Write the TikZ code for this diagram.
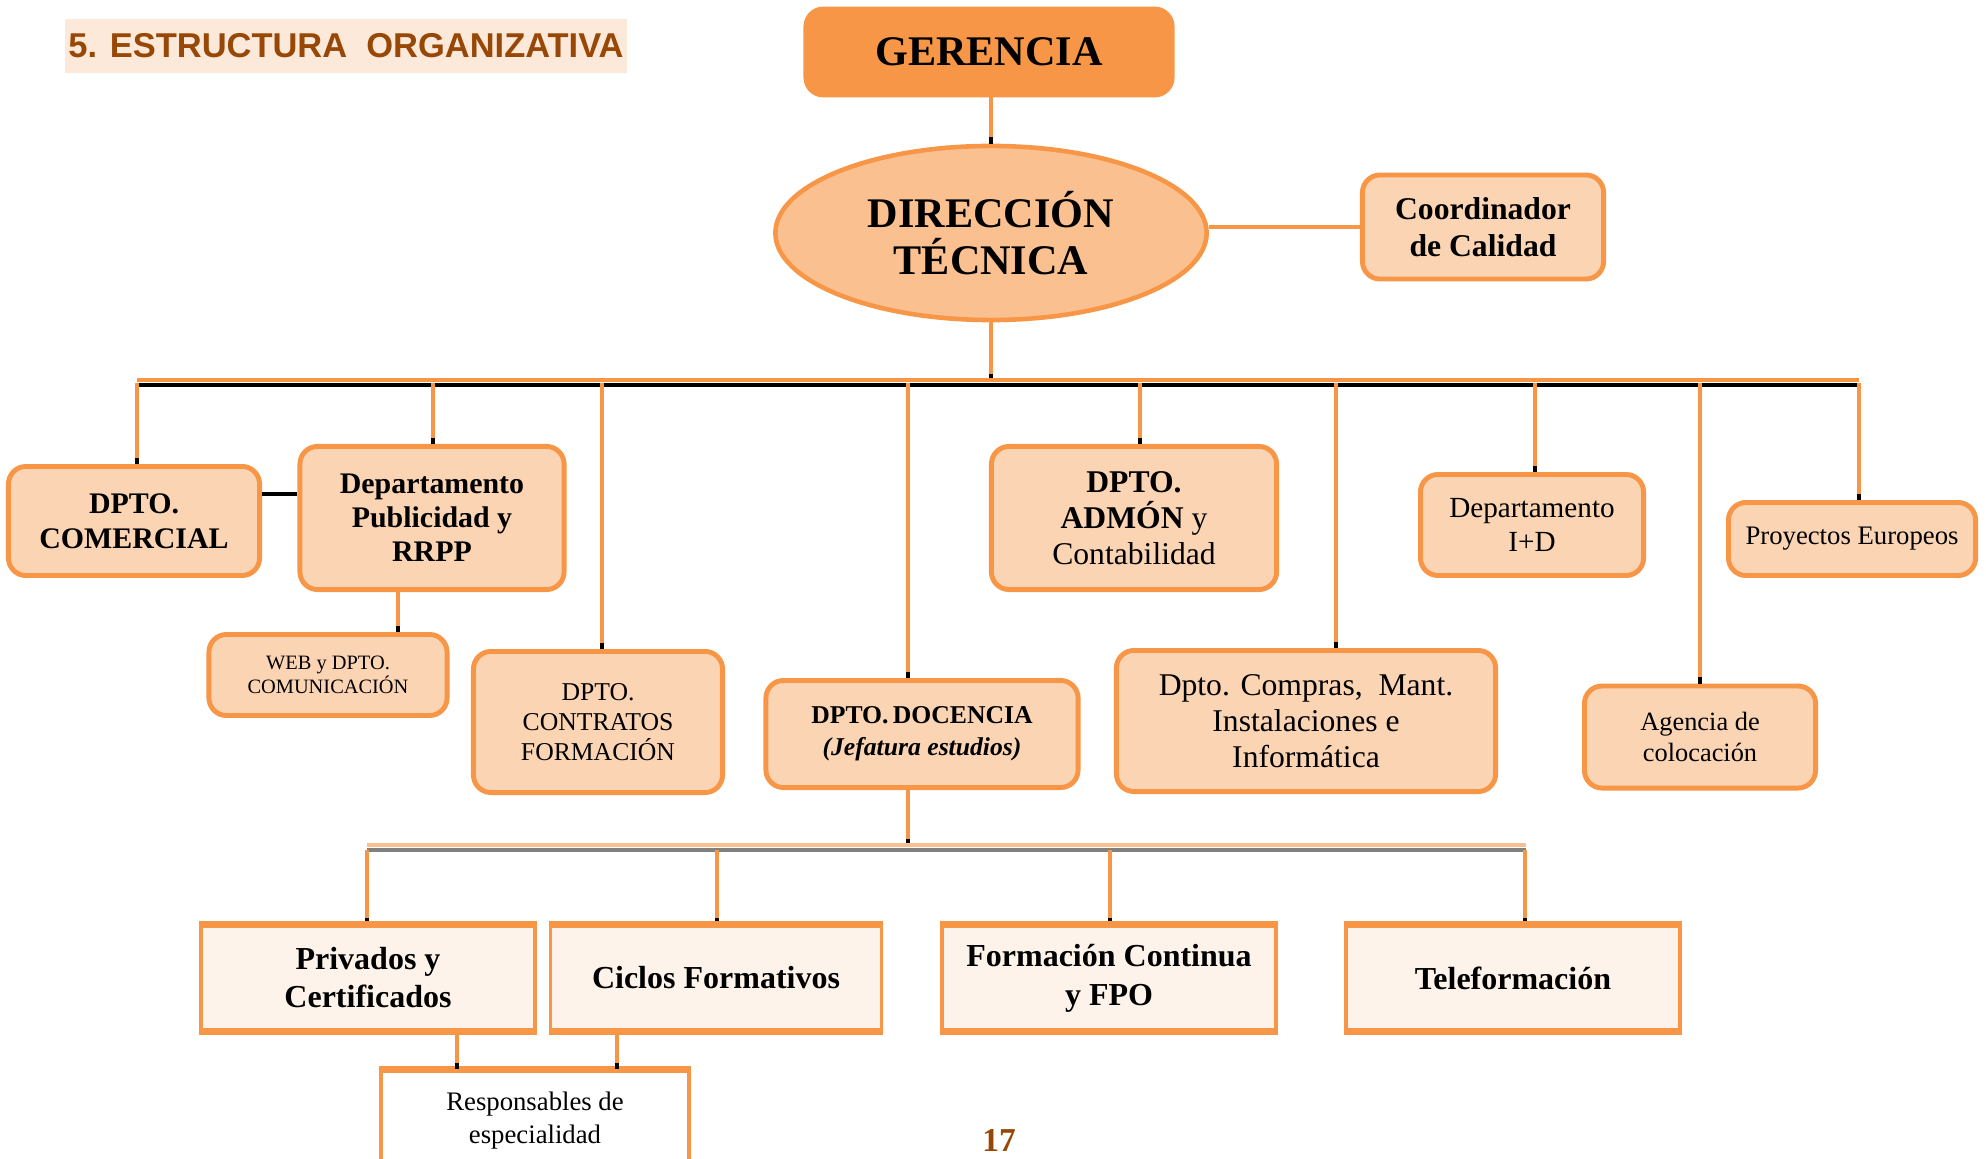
\documentclass[tikz,border=0pt]{standalone}
\usepackage{fontspec}
\setmainfont{Liberation Serif}
\newfontfamily\headfont{Liberation Sans}
\usetikzlibrary{shapes.geometric,arrows.meta}
\definecolor{orng}{HTML}{F79646}
\definecolor{peach}{HTML}{FBD4B4}
\definecolor{ellfill}{HTML}{FAC090}
\definecolor{pale}{HTML}{FDF3EA}
\definecolor{titlebg}{HTML}{FDE9D9}
\definecolor{brown}{HTML}{984806}
\definecolor{busgray}{HTML}{808080}
\newcommand\fs[2]{\fontsize{#1}{#2}\selectfont}
\tikzset{
  box/.style={draw=orng, fill=peach, line width=1.4pt, rounded corners=5pt, align=center, inner sep=0pt},
  sq/.style={draw=orng, fill=pale, line width=1pt, align=center, inner sep=0pt},
  link/.style={draw=orng, line width=1pt},
  tap/.style={link, -{Square[length=1.8pt,width=1.2pt,color=black]}},
  blk/.style={draw=black, line width=1.3pt},
  edge3/.style={draw=orng, line width=2pt},
}

\begin{document}
\begin{tikzpicture}[x=0.01cm, y=-0.01cm]
  \useasboundingbox (0,0) rectangle (1986,1158);
  \clip (0,0) rectangle (1986,1158);

  \node[fill=titlebg, minimum width=5.62cm, minimum height=0.54cm, inner sep=0pt, text=brown,
        font=\headfont\bfseries\fs{9.8}{12}] (title) at (346,46) {5. ESTRUCTURA~ ORGANIZATIVA};

  \node[box, fill=orng, minimum width=3.66cm, minimum height=0.86cm, font=\bfseries\fs{12}{14}] (ger) at (989,52) {GERENCIA};
  \node[ellipse, draw=orng, fill=ellfill, line width=1.3pt, minimum width=4.31cm, minimum height=1.74cm,
        inner sep=0pt, align=center, font=\bfseries\fs{12}{13.4}] (dir) at (991,233) {DIRECCIÓN\\TÉCNICA};
  \node[box, minimum width=2.41cm, minimum height=1.04cm, font=\bfseries\fs{9}{10.5}] (cal) at (1483,227) {Coordinador\\de Calidad};

  \node[box, minimum width=2.51cm, minimum height=1.09cm, font=\bfseries\fs{8.5}{10}] (com) at (134,521) {DPTO.\\COMERCIAL};
  \node[box, minimum width=2.64cm, minimum height=1.43cm, font=\bfseries\fs{8.5}{9.7}] (pub) at (432,518) {Departamento\\Publicidad y\\RRPP};
  \node[box, minimum width=2.38cm, minimum height=0.81cm, font=\fs{5.8}{6.8}] (web) at (328,675) {WEB y DPTO.\\COMUNICACIÓN};
  \node[box, minimum width=2.49cm, minimum height=1.41cm, font=\fs{7.3}{8.6}] (cont) at (598,722) {DPTO.\\CONTRATOS\\FORMACIÓN};
  \node[box, minimum width=3.12cm, minimum height=1.07cm, font=\fs{7.3}{9}] (doc) at (922,734) {\textbf{DPTO.\,DOCENCIA}\\\textbf{\textit{(Jefatura estudios)}}};
  \node[box, minimum width=2.85cm, minimum height=1.43cm, font=\fs{9}{10.3}] (adm) at (1134,518) {\textbf{DPTO.}\\\textbf{ADMÓN} y\\Contabilidad};
  \node[box, minimum width=3.79cm, minimum height=1.41cm, font=\fs{9}{10.3}] (comp) at (1306,721) {Dpto. Compras,~ Mant.\\Instalaciones e\\Informática};
  \node[box, minimum width=2.23cm, minimum height=1.01cm, font=\fs{8.3}{9.7}] (imd) at (1532,525) {Departamento\\I+D};
  \node[box, minimum width=2.31cm, minimum height=1.02cm, font=\fs{7.5}{8.7}] (age) at (1700,737) {Agencia de\\colocación};
  \node[box, minimum width=2.47cm, minimum height=0.73cm, font=\fs{7.6}{9}] (pro) at (1852,539) {Proyectos Europeos};

  \node[sq, minimum width=3.34cm, minimum height=1.03cm, font=\bfseries\fs{9.1}{10.8}] (pri) at (368,978) {Privados y\\Certificados};
  \node[sq, minimum width=3.31cm, minimum height=1.03cm, font=\bfseries\fs{9.1}{10.8}] (cic) at (716,978) {Ciclos Formativos};
  \node[sq, minimum width=3.34cm, minimum height=1.03cm, font=\bfseries\fs{9.1}{11}] (fco) at (1109,978) {Formación Continua\\y FPO};
  \node[sq, minimum width=3.34cm, minimum height=1.03cm, font=\bfseries\fs{9.1}{10.8}] (tel) at (1513,978) {Teleformación};
  \node[sq, fill=white, minimum width=3.08cm, minimum height=1.00cm, font=\fs{7.6}{9.4}] (res) at (535,1121) {Responsables de\\especialidad};

  \node[text=brown, font=\bfseries\fs{9.5}{11}] (pg) at (999,1140) {17};

  \draw[tap] (ger.south -| dir.north) -- (dir.north);
  \draw[link] (cal.west) -- (cal.west -| dir.east);

  \coordinate (busL) at (137,380);
  \coordinate (busR) at (1859,380);
  \coordinate (busLk) at (137,385);
  \coordinate (busRk) at (1859,385);
  \draw[tap] (dir.south) -- (dir.south |- busL);
  \draw[orng, line width=1.4pt] (busL) -- (busR);
  \draw[black, line width=1.2pt] (busLk) -- (busRk);
  \foreach \n/\x in {com/137, pub/433, cont/602, doc/908, adm/1140, comp/1336, imd/1535, age/1700, pro/1859} {
    \coordinate (t\n) at (\x,383);
    \draw[tap] (t\n) -- (\n.north -| t\n);
  }
  \draw[blk] (com.12) -- (com.12 -| pub.west);
  \coordinate (tw) at (398,0);
  \draw[tap] (pub.south -| tw) -- (web.north -| tw);

  \coordinate (bus3L) at (367,845);
  \coordinate (bus3R) at (1526,845);
  \coordinate (bus3Lk) at (367,850);
  \coordinate (bus3Rk) at (1526,850);
  \coordinate (td) at (908,0);
  \draw[tap] (doc.south -| td) -- (bus3L -| td);
  \draw[busgray, line width=1.2pt] (bus3Lk) -- (bus3Rk);
  \draw[ellfill, line width=1.2pt] (bus3L) -- (bus3R);
  \foreach \n/\x in {pri/367, cic/717, fco/1110, tel/1525} {
    \coordinate (s\n) at (\x,850);
    \draw[tap] (s\n) -- (\n.north -| s\n);
  }
  \foreach \n in {pri, cic, fco, tel} {
    \draw[edge3] (\n.north west) -- (\n.north east) (\n.south west) -- (\n.south east);
  }
  \draw[edge3] (res.north west) -- (res.north east);
  \coordinate (r1) at (457,0);
  \coordinate (r2) at (617,0);
  \draw[tap] (pri.south -| r1) -- (res.north -| r1);
  \draw[tap] (cic.south -| r2) -- (res.north -| r2);
\end{tikzpicture}
\end{document}
